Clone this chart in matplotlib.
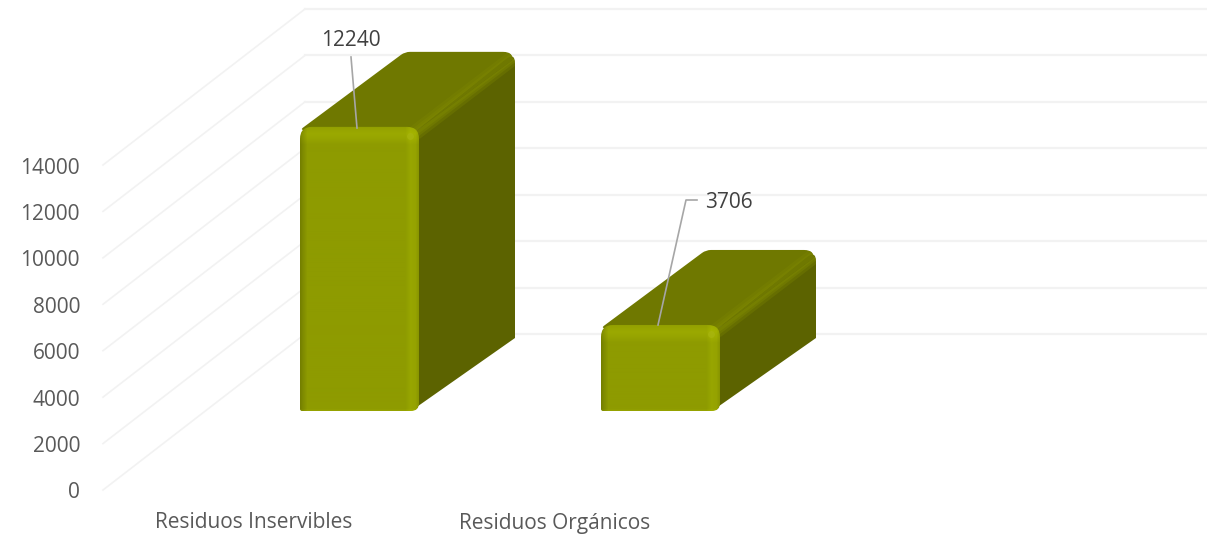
import numpy as np
import matplotlib
matplotlib.use("Agg")
import matplotlib.pyplot as plt
from matplotlib.path import Path
from matplotlib.patches import PathPatch

categories = ["Residuos Inservibles", "Residuos Orgánicos"]
values = [12240, 3706]
ticks = [0, 2000, 4000, 6000, 8000, 10000, 12000, 14000]

W, H = 1207, 534
base_px = 490.0            # pixel row of the value 0 on the front axis
k = 325.0 / 14000          # pixels per unit
plt.rcParams["font.family"] = ["Open Sans", "DejaVu Sans"]

fig = plt.figure(figsize=(W / 100, H / 100), dpi=100)
ax = fig.add_axes([0, 0, 1, 1])
ax.set_xlim(0, W)
ax.set_ylim(-(H - base_px) / k, base_px / k)
ax.axis("off")

def lift(px):
    return px / k

# walls
wall_dx, wall_dy = 202, 156
for t in ticks:
    yb = t + lift(wall_dy)
    ax.plot([103, 103 + wall_dx], [t, yb], color="#f2f2f2", lw=1.2, zorder=1)
    ax.plot([103 + wall_dx, W], [yb, yb], color="#f2f2f2", lw=1.6, zorder=1)

# tick labels
for t in ticks:
    ax.text(80, t - lift(3), str(t), ha="right", va="center", fontsize=15, color="#595959")

def rounded(points, radii):
    # points are pixel offsets (x, up), corners get a quadratic curve
    verts, codes = [], []
    n = len(points)
    for i in range(n):
        p = np.array(points[i], float)
        a = np.array(points[i - 1], float)
        b = np.array(points[(i + 1) % n], float)
        r = radii[i]
        if r == 0:
            verts.append(p)
            codes.append(Path.LINETO)
        else:
            p1 = p + (a - p) / np.linalg.norm(a - p) * r
            p2 = p + (b - p) / np.linalg.norm(b - p) * r
            verts += [p1, p, p2]
            codes += [Path.LINETO, Path.CURVE3, Path.CURVE3]
    codes[0] = Path.MOVETO
    verts.append(verts[0])
    codes.append(Path.CLOSEPOLY)
    verts = np.array(verts)
    verts[:, 1] = verts[:, 1] / k
    return Path(verts, codes)

def gradient_front(w, h):
    x = np.arange(w)
    y = np.arange(h)
    bx = np.interp(x, [0, 2, 7, w - 14, w - 9, w - 4, w - 1], [0.82, 0.88, 1.0, 1.0, 1.07, 1.05, 0.97])
    by = np.interp(y, [0, 2, 7, 12, 18, h - 3, h - 1], [1.02, 1.05, 1.09, 1.06, 1.0, 1.0, 1.05])
    b = np.outer(by, bx)
    base = np.array([0x8e, 0x9b, 0x00]) / 255
    return np.clip(b[..., None] * base, 0, 1)

bar_w, depth_x, depth_y = 119, 97, 75
bar_lift = 79
lefts = [300, 601]

for left, v in zip(lefts, values):
    up = bar_lift + v * k
    right = left + bar_w
    low = bar_lift

    # side face
    side = rounded([(right - 8, low), (right + depth_x - 1, low + depth_y - 2),
                    (right + depth_x - 1, up + depth_y), (right - 8, up - 8)], [8, 0, 12, 0])
    ax.add_patch(PathPatch(side, fc="#5c6300", ec="none", zorder=3))

    # top face
    top = rounded([(left, up - 3), (left + depth_x + 8, up + depth_y),
                   (right + depth_x - 1, up + depth_y), (right + depth_x - 3, up + depth_y - 8),
                   (right - 8, up - 8)], [4, 5, 12, 0, 0])
    ax.add_patch(PathPatch(top, fc="#6f7800", ec="none", zorder=3))

    # bevel along the upper side edge, kept inside the box
    box = PathPatch(Path.make_compound_path(top, side), fc="none", ec="none", zorder=3)
    ax.add_patch(box)
    for lw, al in [(11, 0.3), (7, 0.4), (4, 0.45)]:
        ln, = ax.plot([right - 4, right + depth_x - 3], [lift(up - 6), lift(up + depth_y - 6)],
                      color="#7e8800", lw=lw, alpha=al, zorder=4, solid_capstyle="butt")
        ln.set_clip_path(box)

    # front face with soft edges
    front = rounded([(left, low), (left, up), (right, up), (right, low)], [2, 12, 12, 8])
    fp = PathPatch(front, fc="none", ec="none", zorder=5)
    ax.add_patch(fp)
    im = ax.imshow(gradient_front(bar_w, int(round(up - low))), aspect="auto", zorder=5,
                   extent=[left, right, lift(low), lift(up)], interpolation="bilinear")
    im.set_clip_path(fp)
    ax.plot([right - 9], [lift(up - 9)], "o", ms=5, color="#a8b510", alpha=0.7, mec="none", zorder=6)

ax.set_xlim(0, W)
ax.set_ylim(-(H - base_px) / k, base_px / k)

# data labels with leader lines
def row(px):
    return (base_px - px) / k

ax.plot([351, 357], [row(57), row(128)], color="#a6a6a6", lw=1.2, zorder=7)
ax.text(351, row(41), str(values[0]), ha="center", va="center", fontsize=15, color="#404040", zorder=8)
ax.plot([658, 686, 697], [row(325), row(200), row(200)], color="#a6a6a6", lw=1.2, zorder=7)
ax.text(705, row(202), str(values[1]), ha="left", va="center", fontsize=15, color="#404040", zorder=8)

# category labels
for cx, c in zip([253.5, 554.5], categories):
    ax.text(cx, row(523), c, ha="center", va="center", fontsize=15, color="#595959")

fig.savefig("out.png", dpi=100)
